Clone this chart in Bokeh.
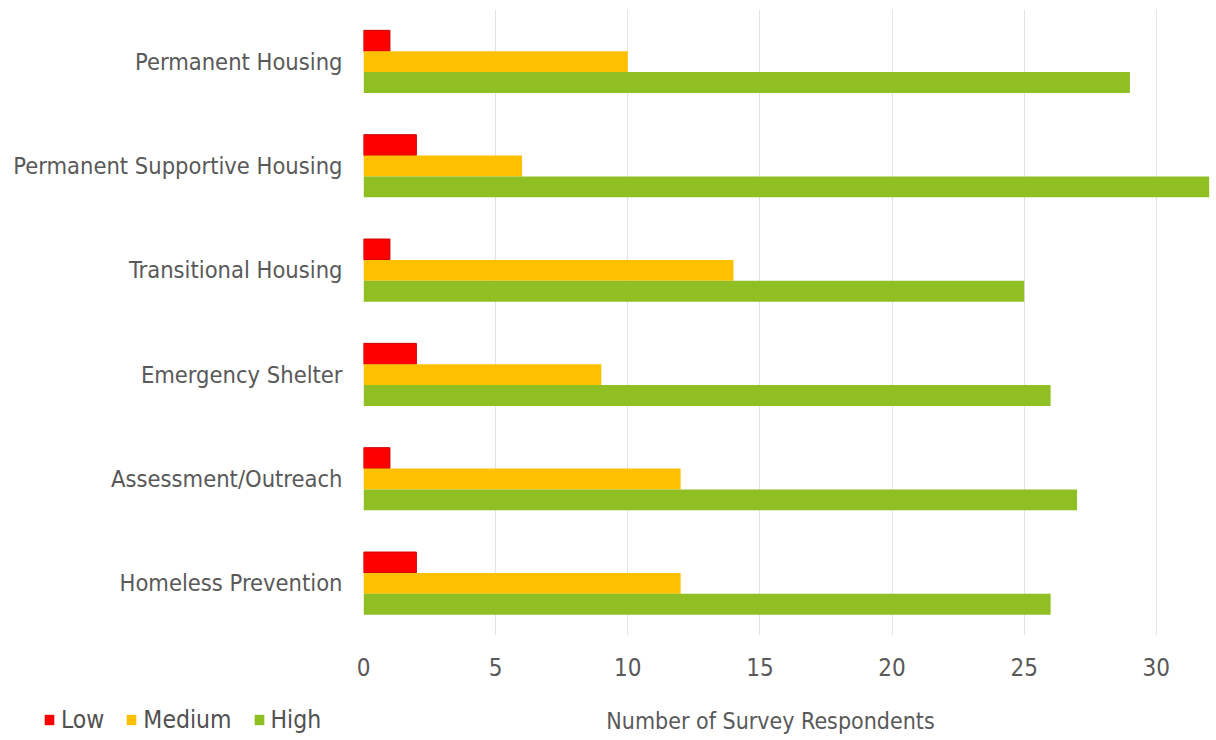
from bokeh.plotting import figure
from bokeh.layouts import column
from bokeh.models import (ColumnDataSource, FactorRange, Range1d, Legend, LegendItem,
                          FixedTicker, Label)
from bokeh.transform import dodge
from bokeh.embed import file_html
from bokeh.resources import INLINE

categories = ["Permanent Housing", "Permanent Supportive Housing", "Transitional Housing",
              "Emergency Shelter", "Assessment/Outreach", "Homeless Prevention"]
low = [1, 2, 1, 2, 1, 2]
medium = [10, 6, 14, 9, 12, 12]
high = [29, 32, 25, 26, 27, 26]
series = ["Low", "Medium", "High"]
x_ticks = [0, 5, 10, 15, 20, 25, 30]
x_title = "Number of Survey Respondents"

FONT = "DejaVu Sans Condensed"
TXT = "#595959"
COLORS = ["#ff0000", "#ffc000", "#8fbf22"]

src = ColumnDataSource(dict(cat=categories, low=low, medium=medium, high=high))

p = figure(width=1210, height=690, output_backend="svg", toolbar_location=None,
           y_range=FactorRange(factors=categories[::-1]), x_range=Range1d(0, 32.05),
           min_border_left=363, min_border_right=0, min_border_top=9, min_border_bottom=55)
p.outline_line_color = None
p.frame_align = False

p.hbar(y=dodge("cat", 0.2, range=p.y_range), right="low", left=0, height=0.2, source=src,
       fill_color=COLORS[0], line_color="#c80000", line_width=1)
p.hbar(y=dodge("cat", 0.0, range=p.y_range), right="medium", left=0, height=0.2, source=src,
       fill_color=COLORS[1], line_color=None)
p.hbar(y=dodge("cat", -0.2, range=p.y_range), right="high", left=0, height=0.2, source=src,
       fill_color=COLORS[2], line_color=None)

p.ygrid.grid_line_color = None
p.xgrid.grid_line_color = "#e2e2e2"
p.xgrid.ticker = FixedTicker(ticks=x_ticks)
p.xaxis.ticker = FixedTicker(ticks=x_ticks)

for ax in (p.xaxis[0], p.yaxis[0]):
    ax.axis_line_color = None
    ax.major_tick_line_color = None
    ax.minor_tick_line_color = None
    ax.major_tick_out = 0
    ax.major_tick_in = 0
    ax.major_label_text_color = TXT
    ax.major_label_text_font = FONT

p.yaxis.major_label_text_font_size = "23.5px"
p.yaxis.major_label_standoff = 21
p.xaxis.major_label_text_font_size = "24px"
p.xaxis.major_label_standoff = 22

# bottom strip: legend + axis title
p2 = figure(width=1210, height=50, output_backend="svg", toolbar_location=None,
            x_range=Range1d(0, 1), y_range=Range1d(0, 1),
            min_border_left=0, min_border_right=0, min_border_top=0, min_border_bottom=0)
p2.frame_align = False
p2.axis.visible = False
p2.grid.visible = False
p2.outline_line_color = None

items = []
for name, col in zip(series, COLORS):
    r = p2.quad(left=[4], right=[5], bottom=[4], top=[5], fill_color=col, line_color=None)
    items.append(LegendItem(label=name, renderers=[r]))

legend = Legend(items=items, orientation="horizontal", location=(43, 6),
                glyph_width=12, glyph_height=13, label_standoff=6, spacing=21,
                label_text_font=FONT, label_text_font_size="24.5px", label_text_color="#505050",
                border_line_color=None, background_fill_alpha=0, padding=0, margin=0)
p2.add_layout(legend, "center")

p2.add_layout(Label(x=770, y=20, x_units="screen", y_units="screen", text=x_title,
                    text_align="center", text_baseline="middle", text_font=FONT,
                    text_font_size="23px", text_color=TXT))

layout = column(p, p2, spacing=0)
open("out.html", "w").write(file_html(layout, INLINE))
